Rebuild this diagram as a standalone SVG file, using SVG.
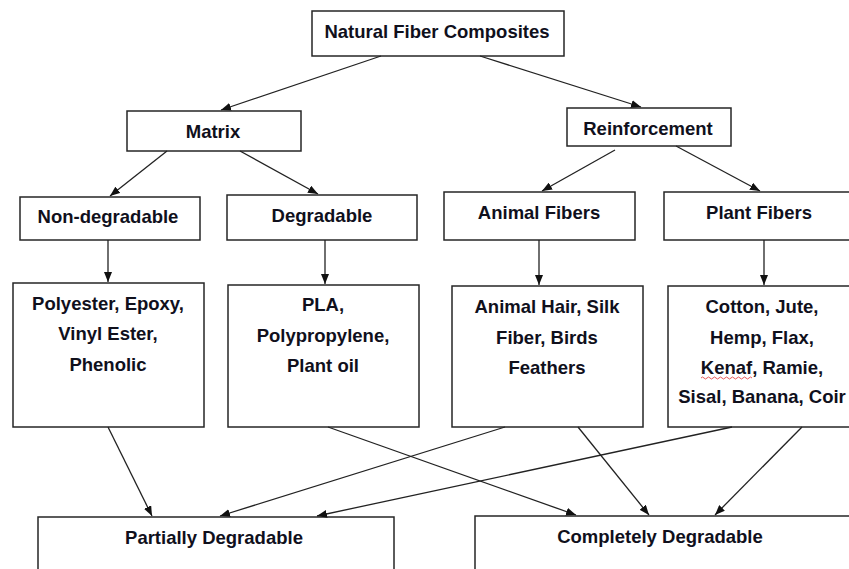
<svg xmlns="http://www.w3.org/2000/svg" width="849" height="569" viewBox="0 0 849 569">
<style>
  .box { fill: #fff; stroke: #262626; stroke-width: 1.5; }
  .t { font-family: "Liberation Sans", Arial, sans-serif; font-weight: bold; font-size: 18.5px; fill: #10101c; text-anchor: middle; }
  .c { stroke: #222; stroke-width: 1.3; fill: none; marker-end: url(#ah); }
</style>
<defs>
  <marker id="ah" markerWidth="10" markerHeight="8" refX="10" refY="4" orient="auto" markerUnits="userSpaceOnUse">
    <path d="M0,0 L10,4 L0,8 z" fill="#111"/>
  </marker>
</defs>
<rect width="849" height="569" fill="#fff"/>

<g id="n-root"><rect class="box" x="312" y="11" width="252" height="45"/><text class="t" x="437" y="38">Natural Fiber Composites</text></g>
<g id="n-matrix"><rect class="box" x="127" y="111" width="174" height="40"/><text class="t" x="213" y="138">Matrix</text></g>
<g id="n-reinf"><rect class="box" x="567" y="108" width="164" height="38"/><text class="t" x="648" y="135">Reinforcement</text></g>
<g id="n-nondeg"><rect class="box" x="20" y="197" width="180" height="43"/><text class="t" x="108" y="223">Non-degradable</text></g>
<g id="n-deg"><rect class="box" x="227" y="195" width="190" height="45"/><text class="t" x="322" y="222">Degradable</text></g>
<g id="n-animal"><rect class="box" x="444" y="192" width="191" height="48"/><text class="t" x="539" y="219">Animal Fibers</text></g>
<g id="n-plant"><rect class="box" x="664" y="192" width="195" height="48"/><text class="t" x="759" y="219">Plant Fibers</text></g>

<g id="n-poly"><rect class="box" x="13" y="283" width="191" height="144"/>
  <text class="t" x="108" y="310">Polyester, Epoxy,</text>
  <text class="t" x="108" y="340">Vinyl Ester,</text>
  <text class="t" x="108" y="371">Phenolic</text></g>
<g id="n-pla"><rect class="box" x="228" y="285" width="191" height="142"/>
  <text class="t" x="323" y="311">PLA,</text>
  <text class="t" x="323" y="342">Polypropylene,</text>
  <text class="t" x="323" y="372">Plant oil</text></g>
<g id="n-hair"><rect class="box" x="452" y="286" width="191" height="141"/>
  <text class="t" x="547" y="313">Animal Hair, Silk</text>
  <text class="t" x="547" y="344">Fiber, Birds</text>
  <text class="t" x="547" y="374">Feathers</text></g>
<g id="n-cotton"><rect class="box" x="668" y="286" width="191" height="141"/>
  <text class="t" x="762" y="313">Cotton, Jute,</text>
  <text class="t" x="762" y="344">Hemp, Flax,</text>
  <text class="t" x="762" y="374">Kenaf, Ramie,</text>
  <text class="t" x="762" y="403">Sisal, Banana, Coir</text>
  <path d="M701,378 q1.5,-2 3,0 t3,0 t3,0 t3,0 t3,0 t3,0 t3,0 t3,0 t3,0 t3,0 t3,0 t3,0 t3,0 t3,0 t3,0 t3,0 t3,0" fill="none" stroke="#e03030" stroke-width="0.8"/></g>

<g id="n-partial"><rect class="box" x="38" y="517" width="356" height="70"/><text class="t" x="214" y="544">Partially Degradable</text></g>
<g id="n-complete"><rect class="box" x="475" y="516" width="390" height="70"/><text class="t" x="660" y="543">Completely Degradable</text></g>

<g id="connectors">
  <line class="c" x1="381" y1="56" x2="221" y2="110"/>
  <line class="c" x1="480" y1="56" x2="641" y2="107"/>
  <line class="c" x1="167" y1="151" x2="110" y2="196"/>
  <line class="c" x1="240" y1="151" x2="318" y2="194"/>
  <line class="c" x1="615" y1="150" x2="542" y2="191"/>
  <line class="c" x1="676" y1="146" x2="760" y2="191"/>
  <line class="c" x1="108" y1="240" x2="108" y2="282"/>
  <line class="c" x1="325" y1="240" x2="325" y2="284"/>
  <line class="c" x1="539" y1="240" x2="539" y2="285"/>
  <line class="c" x1="764" y1="240" x2="764" y2="285"/>
  <line class="c" x1="108" y1="427" x2="152" y2="516"/>
  <line class="c" x1="328" y1="427" x2="576" y2="515"/>
  <line class="c" x1="505" y1="427" x2="220" y2="516"/>
  <line class="c" x1="578" y1="427" x2="649" y2="515"/>
  <line class="c" x1="732" y1="427" x2="317" y2="516"/>
  <line class="c" x1="802" y1="427" x2="715" y2="515"/>
</g>
</svg>
